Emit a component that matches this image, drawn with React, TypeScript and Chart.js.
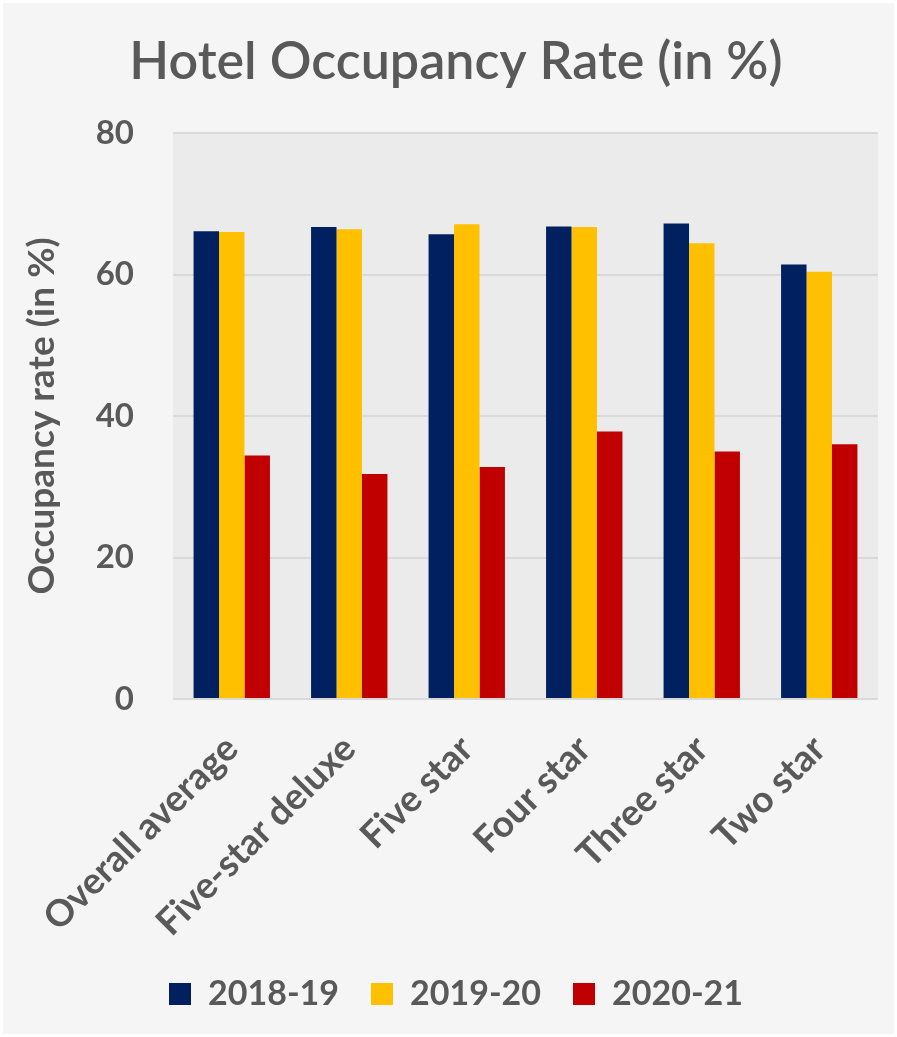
import React, { useEffect, useRef } from 'react';
import { Chart, registerables } from 'chart.js';

Chart.register(...registerables);

const categories = ['Overall average', 'Five-star deluxe', 'Five star', 'Four star', 'Three star', 'Two star'];
const seriesNames = ['2018-19', '2019-20', '2020-21'];
const values2018 = [66.1, 66.7, 65.7, 66.8, 67.2, 61.4];
const values2019 = [66.0, 66.4, 67.1, 66.7, 64.4, 60.4];
const values2020 = [34.4, 31.8, 32.8, 37.8, 35.0, 36.0];
const seriesColors = ['#002060', '#FFC000', '#C00000'];
const yMin = 0;
const yMax = 80;
const yStep = 20;

const FONT = 'Lato';
const TEXT = '#595959';

const bgPlugin = {
  id: 'bgPlugin',
  beforeDraw(chart: any) {
    const { ctx, width, height, chartArea } = chart;
    ctx.save();
    ctx.fillStyle = '#ffffff';
    ctx.fillRect(0, 0, width, height);
    ctx.fillStyle = '#f5f5f5';
    ctx.fillRect(3, 3, width - 6, height - 6);
    ctx.fillStyle = '#ebebeb';
    ctx.fillRect(chartArea.left, chartArea.top, chartArea.right - chartArea.left, chartArea.bottom - chartArea.top);
    ctx.restore();
  },
};

export default function App() {
  const ref = useRef<HTMLCanvasElement | null>(null);

  useEffect(() => {
    document.body.style.margin = '0';
    const canvas = ref.current;
    if (!canvas) return;
    const series = [values2018, values2019, values2020];
    const chart = new Chart(canvas, {
      type: 'bar',
      data: {
        labels: categories,
        datasets: series.map((vals, i) => ({
          label: seriesNames[i],
          data: vals,
          backgroundColor: seriesColors[i],
          borderWidth: 0,
          categoryPercentage: 0.65,
          barPercentage: 1.0,
          yAxisID: 'y',
        })),
      },
      options: {
        responsive: false,
        animation: false,
        devicePixelRatio: 1,
        layout: { padding: { left: 20, right: 5, top: 0, bottom: 16 } },
        plugins: {
          title: {
            display: true,
            text: 'Hotel Occupancy Rate (in %)',
            color: TEXT,
            font: { family: FONT, size: 52, weight: '600' },
            padding: { top: 31, bottom: 39.6 },
          },
          legend: {
            display: true,
            position: 'bottom',
            labels: {
              boxWidth: 22,
              boxHeight: 22,
              padding: 32,
              color: TEXT,
              font: { family: FONT, size: 34, weight: 'bold' },
            },
          },
          tooltip: { enabled: false },
        },
        scales: {
          x: {
            grid: { display: false, drawTicks: false },
            border: { display: false },
            ticks: {
              color: TEXT,
              font: { family: FONT, size: 37, weight: 'bold' },
              maxRotation: 45,
              minRotation: 45,
              padding: 28,
              autoSkip: false,
            },
            afterFit: (s: any) => { s.height = 246; },
          },
          y: {
            min: yMin,
            max: yMax,
            ticks: {
              stepSize: yStep,
              color: TEXT,
              font: { family: FONT, size: 33, weight: 'bold' },
              padding: 39,
            },
            grid: { color: '#d9d9d9', lineWidth: 2, drawTicks: false },
            border: { display: false },
            title: {
              display: true,
              text: 'Occupancy rate (in %)',
              color: TEXT,
              font: { family: FONT, size: 37, weight: 'bold' },
              padding: { top: 0, bottom: 0 },
            },
            afterFit: (s: any) => { s.width = 153; },
          },
          yRight: {
            type: 'linear',
            position: 'right',
            min: yMin,
            max: yMax,
            grid: { drawOnChartArea: false, drawTicks: false },
            border: { display: false },
            ticks: { display: false },
            afterFit: (s: any) => { s.width = 14; },
          },
        },
      },
      plugins: [bgPlugin],
    });
    return () => chart.destroy();
  }, []);

  return <canvas ref={ref} width={897} height={1037} style={{ display: 'block' }} />;
}
